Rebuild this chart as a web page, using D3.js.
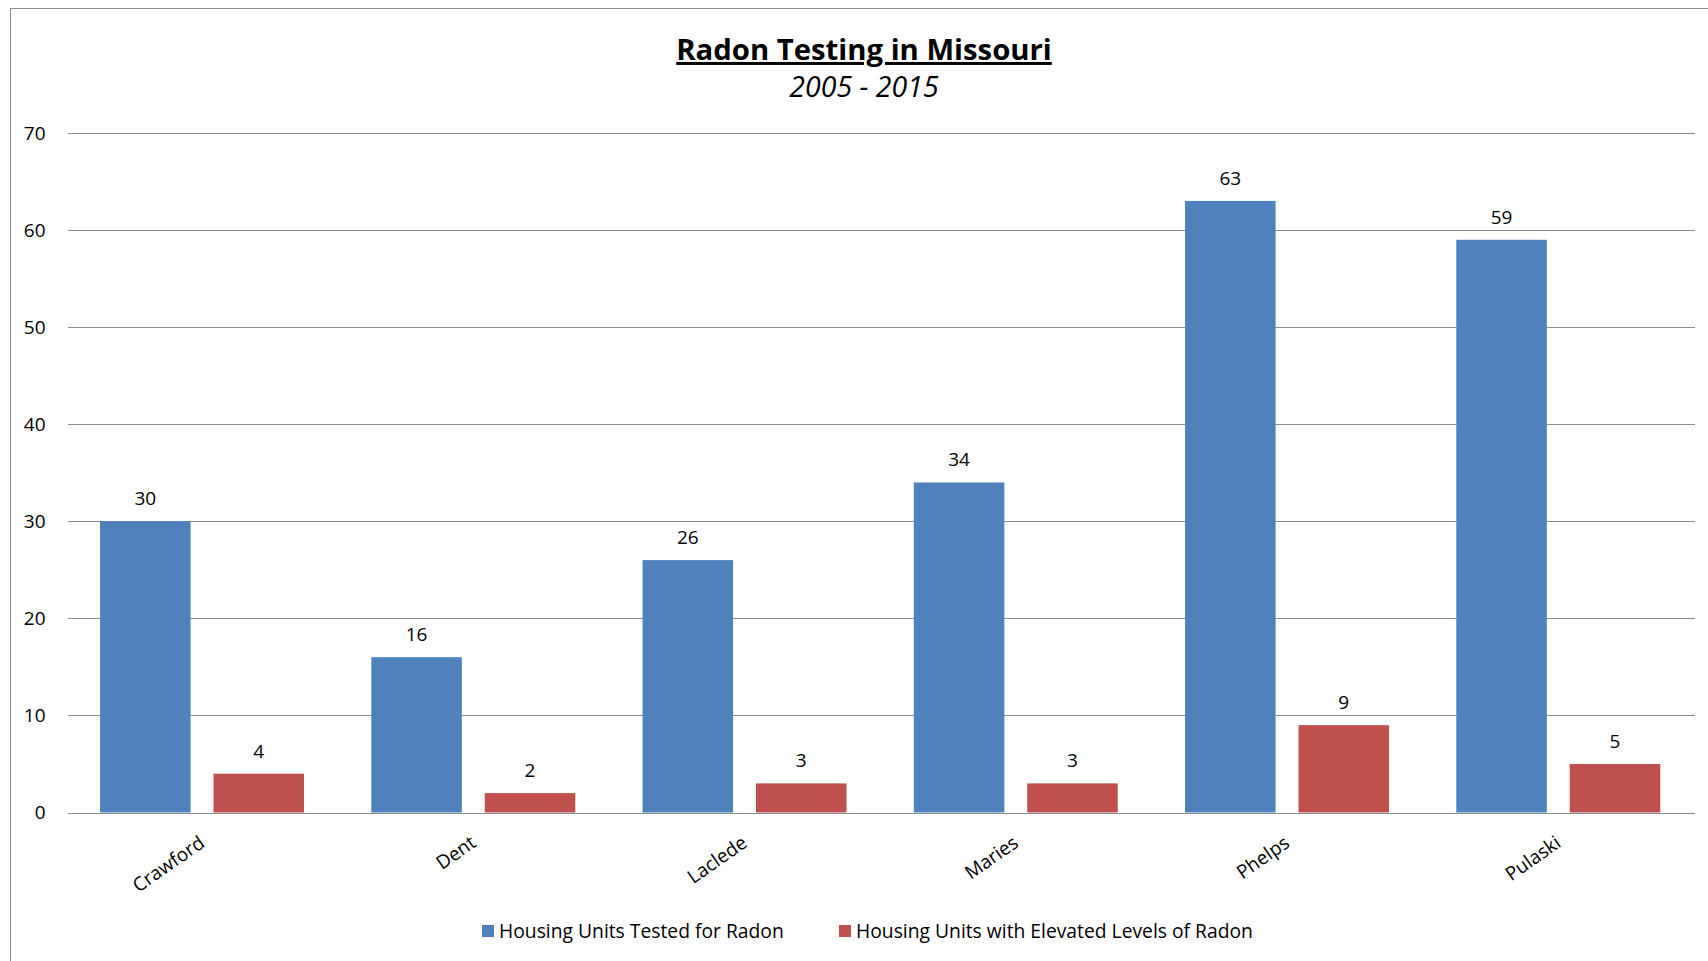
<!DOCTYPE html>
<html>
<head>
<meta charset="utf-8">
<script src="https://cdn.jsdelivr.net/npm/d3@7"></script>
<style>
  body { margin: 0; background: #fff; }
  svg { display: block; }
</style>
</head>
<body>
<svg id="chart" width="1708" height="961"></svg>
<script>
// chart values
const counties = ["Crawford", "Dent", "Laclede", "Maries", "Phelps", "Pulaski"]
const seriesNames = ["Housing Units Tested for Radon", "Housing Units with Elevated Levels of Radon"]
const testedUnits = [30, 16, 26, 34, 63, 59]
const elevatedUnits = [4, 2, 3, 3, 9, 5]
const seriesColors = ["#4f81bd", "#c0504d"]
const yTicks = [0, 10, 20, 30, 40, 50, 60, 70]
const titleText = "Radon Testing in Missouri"
const subtitleText = "2005 - 2015"

class BarChart {

  constructor(root) {
    this.root = root
    this.svg = d3.select(root)
    this.width = Number(root.getAttribute("width"))
    this.height = Number(root.getAttribute("height"))

    this.plot = { left: 67.5, right: 1695, top: 133, bottom: 812.5 }

    this.x0 = d3.scaleBand()
      .domain(counties)
      .range([this.plot.left, this.plot.right])
      .paddingInner(0)
      .paddingOuter(0)

    const bw = this.x0.bandwidth()
    this.x1 = d3.scaleBand()
      .domain(seriesNames)
      .range([bw * 0.12, bw * 0.872])
      .paddingInner(0.202)
      .paddingOuter(0)

    this.y = d3.scaleLinear()
      .domain([0, 70])
      .range([this.plot.bottom, this.plot.top])

    this.color = d3.scaleOrdinal()
      .domain(seriesNames)
      .range(seriesColors)

    this.rows = counties.map((c, i) => ({
      county: c,
      values: [
        { series: seriesNames[0], value: testedUnits[i] },
        { series: seriesNames[1], value: elevatedUnits[i] }
      ]
    }))
  }

  draw() {
    this.drawFrame()
    this.drawTitle()
    this.drawGrid()
    this.drawBars()
    this.drawCategoryLabels()
    this.drawLegend()
  }

  drawFrame() {
    this.svg.append("rect")
      .attr("x", 10.5)
      .attr("y", 8.5)
      .attr("width", this.width + 20)
      .attr("height", this.height + 20)
      .attr("fill", "#fff")
      .attr("stroke", "#8a8a8a")
      .attr("stroke-width", 1)
  }

  drawTitle() {
    this.svg.append("text")
      .attr("x", 864)
      .attr("y", 60)
      .attr("text-anchor", "middle")
      .attr("font-family", "'Open Sans', sans-serif")
      .attr("font-weight", "bold")
      .attr("font-size", 29.3)
      .style("text-decoration", "underline")
      .text(titleText)

    this.svg.append("text")
      .attr("x", 864)
      .attr("y", 97)
      .attr("text-anchor", "middle")
      .attr("font-family", "'Open Sans', sans-serif")
      .attr("font-style", "italic")
      .attr("font-size", 28.5)
      .text(subtitleText)
  }

  drawGrid() {
    const yAxis = d3.axisLeft(this.y)
      .tickValues(yTicks)
      .tickSize(-(this.plot.right - this.plot.left))
      .tickPadding(22)
      .tickFormat(d3.format("d"))

    const g = this.svg.append("g")
      .attr("transform", `translate(${this.plot.left},0)`)
      .call(yAxis)

    g.select(".domain").remove()
    g.selectAll(".tick line")
      .attr("stroke", "#8c8c8c")
      .attr("stroke-width", 1)
      .attr("shape-rendering", "crispEdges")
    g.selectAll(".tick text")
      .attr("fill", "#000")
      .attr("font-family", "'Open Sans', sans-serif")
      .attr("font-size", 19)
  }

  drawBars() {
    const groups = this.svg.append("g")
      .selectAll("g")
      .data(this.rows)
      .enter().append("g")
        .attr("transform", d => `translate(${this.x0(d.county)},0)`)

    groups.selectAll("rect")
      .data(d => d.values)
      .enter().append("rect")
        .attr("x", d => this.x1(d.series))
        .attr("y", d => this.y(d.value))
        .attr("width", this.x1.bandwidth())
        .attr("height", d => this.y(0) - this.y(d.value))
        .attr("fill", d => this.color(d.series))

    groups.selectAll("text")
      .data(d => d.values)
      .enter().append("text")
        .attr("x", d => this.x1(d.series) + this.x1.bandwidth() / 2)
        .attr("y", d => this.y(d.value) - 16)
        .attr("text-anchor", "middle")
        .attr("font-family", "'Open Sans', sans-serif")
        .attr("font-size", 19)
        .text(d => d.value)
  }

  drawCategoryLabels() {
    const y0 = this.plot.bottom + 22
    this.svg.append("g")
      .selectAll("text")
      .data(counties)
      .enter().append("text")
        .attr("transform", d => `translate(${this.x0(d) + this.x0.bandwidth() / 2 - 5},${y0}) rotate(-35)`)
        .attr("text-anchor", "end")
        .attr("dy", "0.72em")
        .attr("font-family", "'Open Sans', sans-serif")
        .attr("font-size", 19)
        .text(d => d)
  }

  drawLegend() {
    const items = [
      { name: seriesNames[0], x: 482 },
      { name: seriesNames[1], x: 839 }
    ]
    const g = this.svg.append("g")
    const item = g.selectAll("g")
      .data(items)
      .enter().append("g")
        .attr("transform", d => `translate(${d.x},931)`)

    item.append("rect")
      .attr("x", 0)
      .attr("y", -6)
      .attr("width", 12)
      .attr("height", 12)
      .attr("fill", d => this.color(d.name))

    item.append("text")
      .attr("x", 17)
      .attr("y", 7)
      .attr("font-family", "'Open Sans', sans-serif")
      .attr("font-size", 19.3)
      .text(d => d.name)
  }
}

const chart = new BarChart(document.getElementById("chart"))
chart.draw()
</script>
</body>
</html>
